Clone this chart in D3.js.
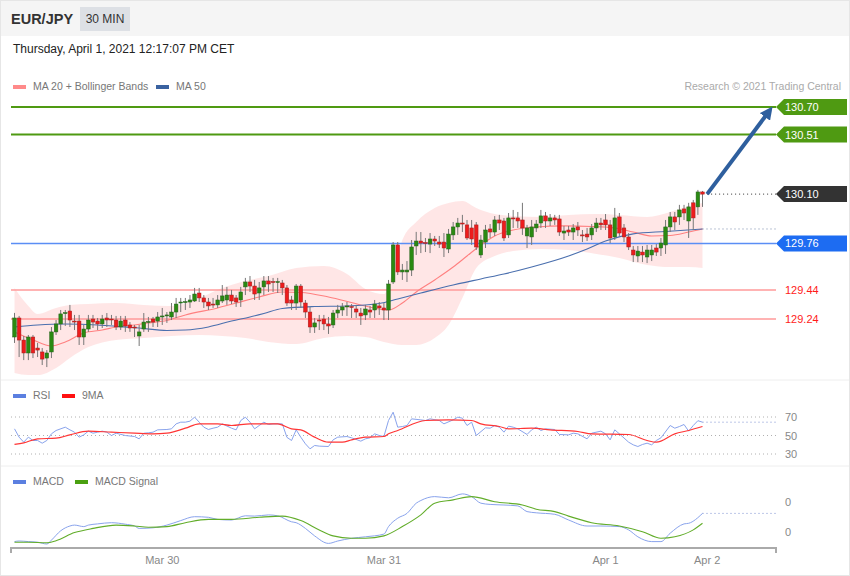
<!DOCTYPE html>
<html><head><meta charset="utf-8">
<script src="https://cdn.jsdelivr.net/npm/d3@7"></script>
<style>body{margin:0;background:#fff;} svg{display:block;font-family:"Liberation Sans",Arial,sans-serif;}</style>
</head><body><svg id="c" width="850" height="576"></svg>
<script>
// ---------- DATA ----------
const candleOHLC = [
[129.116,129.282,129.075,129.247],[129.247,129.261,128.978,129.095],[129.095,129.123,128.957,129.006],[129.006,129.130,128.957,129.116],
[129.116,129.130,128.971,129.006],[129.040,129.075,128.978,129.026],[129.013,129.040,128.923,128.964],[128.971,129.026,128.909,129.006],
[129.013,129.185,128.971,129.151],[129.151,129.233,129.130,129.206],[129.206,129.302,129.164,129.275],[129.281,129.302,129.192,129.284],
[129.295,129.337,129.185,129.233],[129.226,129.268,129.164,129.223],[129.226,129.268,129.061,129.116],[129.116,129.199,129.061,129.171],
[129.171,129.268,129.151,129.233],[129.240,129.268,129.178,129.219],[129.226,129.247,129.164,129.206],[129.206,129.268,129.178,129.240],
[129.247,129.281,129.185,129.233],[129.240,129.268,129.199,129.237],[129.233,129.261,129.164,129.185],[129.185,129.261,129.164,129.226],
[129.233,129.261,129.151,129.192],[129.199,129.219,129.151,129.178],[129.185,129.199,129.116,129.182],[129.123,129.199,129.054,129.151],
[129.171,129.281,129.151,129.219],[129.216,129.254,129.151,129.223],[129.240,129.254,129.185,129.219],[129.226,129.288,129.185,129.254],
[129.254,129.316,129.199,129.261],[129.261,129.288,129.213,129.268],[129.254,129.350,129.233,129.288],[129.288,129.385,129.247,129.343],
[129.354,129.385,129.288,129.357],[129.354,129.385,129.302,129.360],[129.357,129.405,129.316,129.371],[129.364,129.454,129.357,129.412],
[129.419,129.454,129.357,129.385],[129.385,129.405,129.316,129.357],[129.357,129.385,129.302,129.330],[129.343,129.385,129.316,129.340],
[129.337,129.405,129.316,129.371],[129.364,129.474,129.350,129.399],[129.371,129.461,129.337,129.405],[129.405,129.440,129.343,129.364],
[129.385,129.405,129.323,129.357],[129.371,129.461,129.323,129.426],[129.461,129.523,129.405,129.495],[129.495,129.536,129.426,129.467],
[129.467,129.509,129.371,129.412],[129.419,129.495,129.371,129.454],[129.461,129.536,129.405,129.502],[129.502,129.536,129.426,129.481],
[129.498,129.523,129.426,129.495],[129.495,129.523,129.419,129.498],[129.488,129.509,129.405,129.454],[129.454,129.474,129.330,129.350],
[129.371,129.399,129.302,129.350],[129.350,129.481,129.302,129.467],[129.467,129.481,129.316,129.357],[129.350,129.371,129.247,129.288],
[129.288,129.323,129.144,129.185],[129.185,129.247,129.144,129.213],[129.233,129.268,129.164,129.230],[129.240,129.268,129.164,129.206],
[129.206,129.254,129.137,129.192],[129.199,129.302,129.178,129.281],[129.281,129.337,129.247,129.302],[129.302,129.350,129.261,129.323],
[129.323,129.357,129.261,129.330],[129.326,129.343,129.247,129.323],[129.309,129.337,129.247,129.288],[129.281,129.316,129.199,129.261],
[129.268,129.337,129.233,129.309],[129.302,129.330,129.247,129.288],[129.302,129.371,129.247,129.343],[129.330,129.357,129.268,129.316],
[129.316,129.350,129.233,129.302],[129.302,129.509,129.233,129.481],[129.495,129.770,129.481,129.750],[129.750,129.770,129.543,129.564],
[129.564,129.619,129.509,129.577],[129.564,129.639,129.495,129.577],[129.577,129.784,129.536,129.736],[129.743,129.840,129.681,129.777],
[129.777,129.839,129.694,129.763],[129.767,129.798,129.701,129.763],[129.756,129.832,129.694,129.791],[129.791,129.812,129.743,129.777],
[129.770,129.812,129.729,129.756],[129.770,129.832,129.667,129.729],[129.722,129.860,129.694,129.825],[129.819,129.908,129.784,129.874],
[129.874,129.936,129.819,129.901],[129.901,129.957,129.839,129.894],[129.888,129.922,129.784,129.798],[129.867,129.922,129.750,129.791],
[129.888,129.908,129.715,129.736],[129.681,129.819,129.660,129.784],[129.770,129.888,129.729,129.853],[129.860,129.894,129.798,129.839],
[129.839,129.949,129.812,129.922],[129.922,129.957,129.853,129.901],[129.915,129.936,129.777,129.798],[129.819,129.970,129.798,129.936],
[129.936,129.991,129.867,129.929],[129.936,129.977,129.867,129.915],[129.922,130.040,129.819,129.867],[129.812,129.888,129.729,129.867],
[129.805,129.922,129.750,129.874],[129.867,129.922,129.839,129.894],[129.901,129.991,129.867,129.950],[129.950,129.977,129.867,129.915],
[129.915,129.963,129.881,129.936],[129.936,129.957,129.888,129.922],[129.929,129.957,129.812,129.839],[129.832,129.881,129.784,129.846],
[129.853,129.881,129.812,129.839],[129.839,129.894,129.784,129.867],[129.874,129.908,129.812,129.853],[129.819,129.853,129.770,129.815],
[129.825,129.867,129.777,129.805],[129.819,129.894,129.784,129.867],[129.867,129.936,129.839,129.901],[129.901,129.936,129.853,129.888],
[129.922,129.963,129.853,129.888],[129.888,129.922,129.763,129.798],[129.805,130.005,129.784,129.936],[129.943,129.970,129.812,129.832],
[129.867,129.894,129.770,129.805],[129.805,129.832,129.715,129.736],[129.715,129.743,129.632,129.681],[129.674,129.743,129.632,129.708],
[129.701,129.743,129.632,129.681],[129.667,129.750,129.625,129.715],[129.681,129.750,129.639,129.715],[129.729,129.756,129.674,129.701],
[129.729,129.798,129.674,129.763],[129.750,129.922,129.688,129.874],[129.874,129.977,129.839,129.943],[129.943,129.977,129.853,129.908],
[129.943,130.026,129.888,129.991],[129.998,130.026,129.922,129.970],[129.915,130.040,129.798,130.012],[130.040,130.060,129.853,129.936],
[130.012,130.129,129.957,130.115],[130.115,130.122,130.012,130.100]
];

const bbIdx   = [0,3,5,9,12,16,22,28,34,40,45,50,55,61,67,72,76,80,82,84,87,91,94,97,100,104,108,114,120,126,131,137,142,146,149];
const bbUpper = [129.454,129.330,129.275,129.316,129.337,129.343,129.350,129.337,129.330,129.385,129.454,129.502,129.536,129.591,129.605,129.550,129.447,129.412,129.578,129.784,129.908,130.005,130.039,130.053,130.005,129.963,129.950,129.943,129.956,129.963,129.956,129.943,129.977,130.018,130.039];
const bbLower = [128.868,128.854,128.854,128.903,128.972,129.047,129.096,129.109,129.123,129.130,129.123,129.109,129.082,129.068,129.109,129.123,129.116,129.082,129.068,129.061,129.061,129.109,129.199,129.385,129.591,129.674,129.708,129.722,129.715,129.688,129.660,129.612,129.598,129.598,129.591];

const ma20Idx = [0,4,8,11,15,19,22,26,29,33,37,44,48,53,58,62,68,75,81,84,87,91,95,98,101,104,108,113,119,125,130,134,138,142,146,149];
const ma20    = [129.151,129.096,129.054,129.082,129.144,129.164,129.185,129.199,129.213,129.230,129.268,129.316,129.350,129.392,129.426,129.423,129.392,129.337,129.302,129.350,129.426,129.509,129.598,129.674,129.750,129.812,129.853,129.874,129.881,129.877,129.867,129.839,129.812,129.815,129.839,129.860];

const ma50Idx = [0,5,11,18,22,27,33,37,42,47,51,54,58,65,72,79,83,88,94,101,106,112,120,124,128,134,141,149];
const ma50    = [129.185,129.199,129.206,129.199,129.189,129.178,129.161,129.164,129.185,129.226,129.254,129.278,129.312,129.326,129.330,129.347,129.378,129.419,129.467,129.516,129.550,129.598,129.674,129.722,129.777,129.826,129.843,129.860];

const rsiIdx = [0,1,2,3,4,5,6,7,8,9,11,12,13,14,15,16,17,18,19,20,21,22,24,26,27,28,29,30,31,33,34,35,36,37,38,39,40,41,42,43,44,45,47,48,49,50,51,52,53,54,55,56,58,59,60,61,62,63,64,65,66,68,69,70,72,73,75,76,77,78,79,80,81,82,83,84,85,86,88,89,90,92,93,95,96,97,98,99,100,102,103,104,105,106,107,108,109,111,112,113,114,115,117,118,120,121,122,124,125,127,128,129,130,131,133,134,135,136,137,138,139,140,142,143,144,145,146,147,148,149];
const rsi    = [57.2,48.2,42.8,48.2,44.6,44.6,41.7,44.6,51.8,55.4,59,56.1,53.6,48.2,50.7,54.7,52.5,53.6,54.7,53.6,50,52.5,50,48.9,46.4,52.5,52.9,53.6,56.1,56.5,57.2,62.6,64.4,64.4,65.5,69.8,64.4,59,56.5,57.9,59,62.6,57.9,56.1,66.2,69.8,64.4,57.2,60.8,64.4,61.9,62.6,62.6,48,44.6,56.1,48.2,41,35.6,39.2,38.5,38.1,45.3,48.2,48.9,47.5,43.9,46.4,47.5,51.8,50,48.9,66.2,75.2,59,59.7,60.8,68,66.9,66.2,68,66.2,62.6,66.9,69.8,68.7,60.8,64.4,50,58.3,57.9,60.8,59,53.6,60.1,59,57.2,51.1,56.1,59,55.4,57.2,56.5,51.1,50.7,52.5,51.8,46.4,52.5,54.7,51.8,45.3,56.1,51.8,42.8,39.9,38.1,40.3,41.7,39.9,44.6,47.5,60.8,57.9,59.7,61.9,54.7,60.8,66,64.4];
const rsiMaIdx = [0,2,5,9,12,16,21,26,30,33,37,40,44,47,51,57,60,62,65,68,71,73,76,80,81,83,89,94,99,101,105,107,112,116,122,125,133,137,139,143,146,149];
const rsiMa    = [40.3,42,46.4,47.1,50.7,54.7,53.6,52.5,51.8,52.5,57.9,62.6,62.6,60.8,62.6,62.6,57.2,56.1,48.2,42.8,42.8,45.3,48.2,48.9,51.8,55.4,66.2,66.9,66.2,62.6,59.7,57.2,57.9,56.1,54.3,51.8,51.1,44.6,42.8,51.8,55.4,59.7];
const rsiLevels = [70,50,30];

const macdIdx = [0,1,3,5,7,8,10,12,13,15,16,18,21,24,26,27,30,33,36,39,42,44,47,50,52,55,57,60,61,63,65,68,70,73,76,80,81,83,85,87,88,91,94,97,99,101,103,106,109,111,113,117,120,124,127,131,133,135,138,140,142,145,146,149];
const macd    = [-0.082,-0.080,-0.082,-0.084,-0.090,-0.077,-0.046,-0.030,-0.027,-0.032,-0.027,-0.023,-0.019,-0.024,-0.030,-0.038,-0.036,-0.027,-0.012,0.001,-0.001,-0.008,-0.010,0.004,0.003,0.007,0.004,-0.016,-0.019,-0.038,-0.063,-0.088,-0.080,-0.071,-0.066,-0.057,-0.032,-0.004,0.012,0.046,0.055,0.068,0.064,0.077,0.068,0.046,0.042,0.040,0.037,0.018,0.014,0.009,-0.010,-0.030,-0.030,-0.032,-0.043,-0.066,-0.082,-0.082,-0.054,-0.023,-0.021,0.012];
const sigIdx  = [0,3,7,9,13,17,22,26,29,33,37,42,47,53,58,62,66,69,73,76,80,84,88,91,95,99,104,110,113,117,120,125,131,136,140,143,147,149];
const macdSig = [-0.084,-0.084,-0.086,-0.079,-0.052,-0.038,-0.027,-0.030,-0.034,-0.032,-0.019,-0.008,-0.008,-0.001,0.003,-0.012,-0.043,-0.063,-0.071,-0.071,-0.063,-0.032,0.007,0.046,0.057,0.068,0.051,0.040,0.026,0.018,0.003,-0.019,-0.030,-0.049,-0.071,-0.066,-0.043,-0.021];
const macdTicks = [0.05,-0.05];
const macdTickLabels = ["0","0"];

const dateTickIdx = [32,80,128,150];
const dateTickLabels = ["Mar 30","Mar 31","Apr 1","Apr 2"];

const resistLevels = [130.70,130.51];
const supportLevels = [129.44,129.24];
const pivotLevel = 129.76;
const lastPrice = 130.10;
const arrowFrom = [150,130.10];
const arrowTo = [164,130.695];

// ---------- SCALES ----------
const svg = d3.select("#c");
const W=850,H=576, X0=11, X1=776;
const x = d3.scaleLinear().domain([0,149]).range([14.5,702.5]);
const y = d3.scaleLinear().domain([129.24,130.70]).range([319,107]);
const yR = d3.scaleLinear().domain([30,70]).range([454,417]);
const yM = d3.scaleLinear().domain([-0.05,0.05]).range([532,502]);

// ---------- FRAME ----------
svg.append("rect").attr("x",0.5).attr("y",0.5).attr("width",W-1).attr("height",H-1).attr("fill","#fff").attr("stroke","#e6e6e6");
svg.append("rect").attr("x",1).attr("y",1).attr("width",W-2).attr("height",35).attr("fill","#f5f5f5");
svg.append("text").attr("x",11).attr("y",24).attr("font-size",14.5).attr("font-weight","bold").attr("fill","#333").text("EUR/JPY");
svg.append("rect").attr("x",80).attr("y",7).attr("width",50).attr("height",24).attr("fill","#dde0e5");
svg.append("text").attr("x",105).attr("y",23).attr("text-anchor","middle").attr("font-size",12).attr("fill","#333").text("30 MIN");
svg.append("text").attr("x",13).attr("y",53).attr("font-size",12).attr("fill","#222").text("Thursday, April 1, 2021 12:17:07 PM CET");

// separators
[380,466].forEach(v=>svg.append("line").attr("x1",1).attr("x2",W-1).attr("y1",v).attr("y2",v).attr("stroke","#eeeeee"));

// legends
function legend(items, yy){
  items.forEach(it=>{
    svg.append("rect").attr("x",it.x).attr("y",yy-5).attr("width",13).attr("height",4).attr("fill",it.c);
    svg.append("text").attr("x",it.x+20).attr("y",yy).attr("font-size",10.5).attr("fill","#777").text(it.t);
  });
}
legend([{x:13,c:"#ff8a8a",t:"MA 20 + Bollinger Bands"},{x:156,c:"#3a62a0",t:"MA 50"}],90);
svg.append("text").attr("x",841).attr("y",90).attr("text-anchor","end").attr("font-size",10.5).attr("fill","#aaa").text("Research © 2021 Trading Central");
legend([{x:13,c:"#5b7fe0",t:"RSI"},{x:62,c:"#ff1010",t:"9MA"}],399);
legend([{x:13,c:"#5b7fe0",t:"MACD"},{x:75,c:"#4aa010",t:"MACD Signal"}],485);

// ---------- MAIN PANEL ----------
const band = d3.area().x((d,i)=>x(bbIdx[i])).y0((d,i)=>y(bbLower[i])).y1((d,i)=>y(bbUpper[i])).curve(d3.curveMonotoneX);
svg.append("path").datum(bbIdx).attr("d",band).attr("fill","#ffe3e3").attr("opacity",0.9);

// horizontal level lines
resistLevels.forEach(v=>svg.append("line").attr("x1",X0).attr("x2",X1).attr("y1",y(v)).attr("y2",y(v)).attr("stroke","#4f9a12").attr("stroke-width",2));
supportLevels.forEach(v=>svg.append("line").attr("x1",X0).attr("x2",X1).attr("y1",y(v)).attr("y2",y(v)).attr("stroke","#ff9a9a").attr("stroke-width",1.5));
svg.append("line").attr("x1",X0).attr("x2",X1).attr("y1",y(pivotLevel)).attr("y2",y(pivotLevel)).attr("stroke","#5b8ef5").attr("stroke-width",1.6);

const lineIdx = (idx,vals,sc)=>d3.line().x((d,i)=>x(idx[i])).y((d,i)=>sc(vals[i])).curve(d3.curveMonotoneX);
svg.append("path").datum(ma20Idx).attr("d",lineIdx(ma20Idx,ma20,y)).attr("fill","none").attr("stroke","#ff8080").attr("stroke-width",1.1);
svg.append("path").datum(ma50Idx).attr("d",lineIdx(ma50Idx,ma50,y)).attr("fill","none").attr("stroke","#4a6fae").attr("stroke-width",1.1);

// candles
const cg = svg.append("g");
candleOHLC.forEach((c,i)=>{
  const [o,h,l,cl]=c, cx=x(i), up=cl>=o;
  cg.append("line").attr("x1",cx).attr("x2",cx).attr("y1",y(h)).attr("y2",y(l)).attr("stroke","#777").attr("stroke-width",1);
  const top=y(Math.max(o,cl)), bot=y(Math.min(o,cl));
  cg.append("rect").attr("x",cx-1.8).attr("y",top).attr("width",3.6).attr("height",Math.max(1,bot-top))
    .attr("fill",up?"#2a8a12":"#ee1c1c").attr("stroke",up?"#24601a":"#a02020").attr("stroke-width",0.5);
});

// dotted guides
svg.append("line").attr("x1",x(150)).attr("x2",X1).attr("y1",y(lastPrice)).attr("y2",y(lastPrice)).attr("stroke","#333").attr("stroke-dasharray","1,3");
svg.append("line").attr("x1",x(149)).attr("x2",X1).attr("y1",y(ma50[ma50.length-1])).attr("y2",y(ma50[ma50.length-1])).attr("stroke","#7788aa").attr("stroke-dasharray","1,3");

// arrow
const defs = svg.append("defs");
defs.append("marker").attr("id","ah").attr("viewBox","0 0 10 10").attr("refX",5).attr("refY",5).attr("markerWidth",3.2).attr("markerHeight",3.2).attr("orient","auto")
  .append("path").attr("d","M0,0 L10,5 L0,10 z").attr("fill","#2e5f9e");
svg.append("line").attr("x1",x(arrowFrom[0])).attr("y1",y(arrowFrom[1])).attr("x2",x(arrowTo[0])-3).attr("y2",y(arrowTo[1])+4)
  .attr("stroke","#2e5f9e").attr("stroke-width",4).attr("marker-end","url(#ah)");

// tags
function tag(v,fill){
  const yy=y(v);
  svg.append("path").attr("d",`M${X1},${yy} L${X1+8},${yy-8} L847,${yy-8} L847,${yy+8} L${X1+8},${yy+8} Z`).attr("fill",fill);
  svg.append("text").attr("x",785).attr("y",yy+4).attr("font-size",11).attr("fill","#fff").text(v.toFixed(2));
}
resistLevels.forEach(v=>tag(v,"#4f9a12"));
tag(lastPrice,"#333333");
tag(pivotLevel,"#1d6cf2");
supportLevels.forEach(v=>svg.append("text").attr("x",785).attr("y",y(v)+4).attr("font-size",11).attr("fill","#ff1a1a").text(v.toFixed(2)));

// ---------- RSI ----------
rsiLevels.forEach(v=>{
  svg.append("line").attr("x1",X0).attr("x2",X1).attr("y1",yR(v)).attr("y2",yR(v)).attr("stroke","#b0b0b0").attr("stroke-dasharray","1,3");
  svg.append("text").attr("x",785).attr("y",yR(v)+4).attr("font-size",11).attr("fill","#888").text(v);
});
svg.append("path").datum(rsiIdx).attr("d",d3.line().x((d,i)=>x(rsiIdx[i])).y((d,i)=>yR(rsi[i]))).attr("fill","none").attr("stroke","#89a3ec").attr("stroke-width",1);
svg.append("path").datum(rsiMaIdx).attr("d",lineIdx(rsiMaIdx,rsiMa,yR)).attr("fill","none").attr("stroke","#ff3535").attr("stroke-width",1.2);
svg.append("line").attr("x1",x(149)).attr("x2",X1).attr("y1",yR(rsi[rsi.length-1])).attr("y2",yR(rsi[rsi.length-1])).attr("stroke","#7b8fd0").attr("stroke-dasharray","1,3");

// ---------- MACD ----------
svg.append("path").datum(macdIdx).attr("d",lineIdx(macdIdx,macd,yM)).attr("fill","none").attr("stroke","#89a3ec").attr("stroke-width",1);
svg.append("path").datum(sigIdx).attr("d",lineIdx(sigIdx,macdSig,yM)).attr("fill","none").attr("stroke","#62ad2a").attr("stroke-width",1.1);
svg.append("line").attr("x1",x(149)).attr("x2",X1).attr("y1",yM(macd[macd.length-1])).attr("y2",yM(macd[macd.length-1])).attr("stroke","#7b8fd0").attr("stroke-dasharray","1,3");
macdTicks.forEach((v,i)=>svg.append("text").attr("x",785).attr("y",yM(v)+4).attr("font-size",11).attr("fill","#888").text(macdTickLabels[i]));

// ---------- X AXIS ----------
const ax = svg.append("g");
ax.append("path").attr("d",`M${X0},553 V548 H${X1} V553`).attr("fill","none").attr("stroke","#aaa").attr("stroke-width",2);
dateTickIdx.forEach((d,i)=>ax.append("text").attr("x",x(d)).attr("y",564).attr("text-anchor","middle").attr("font-size",11).attr("fill","#888").text(dateTickLabels[i]));
</script></body></html>
